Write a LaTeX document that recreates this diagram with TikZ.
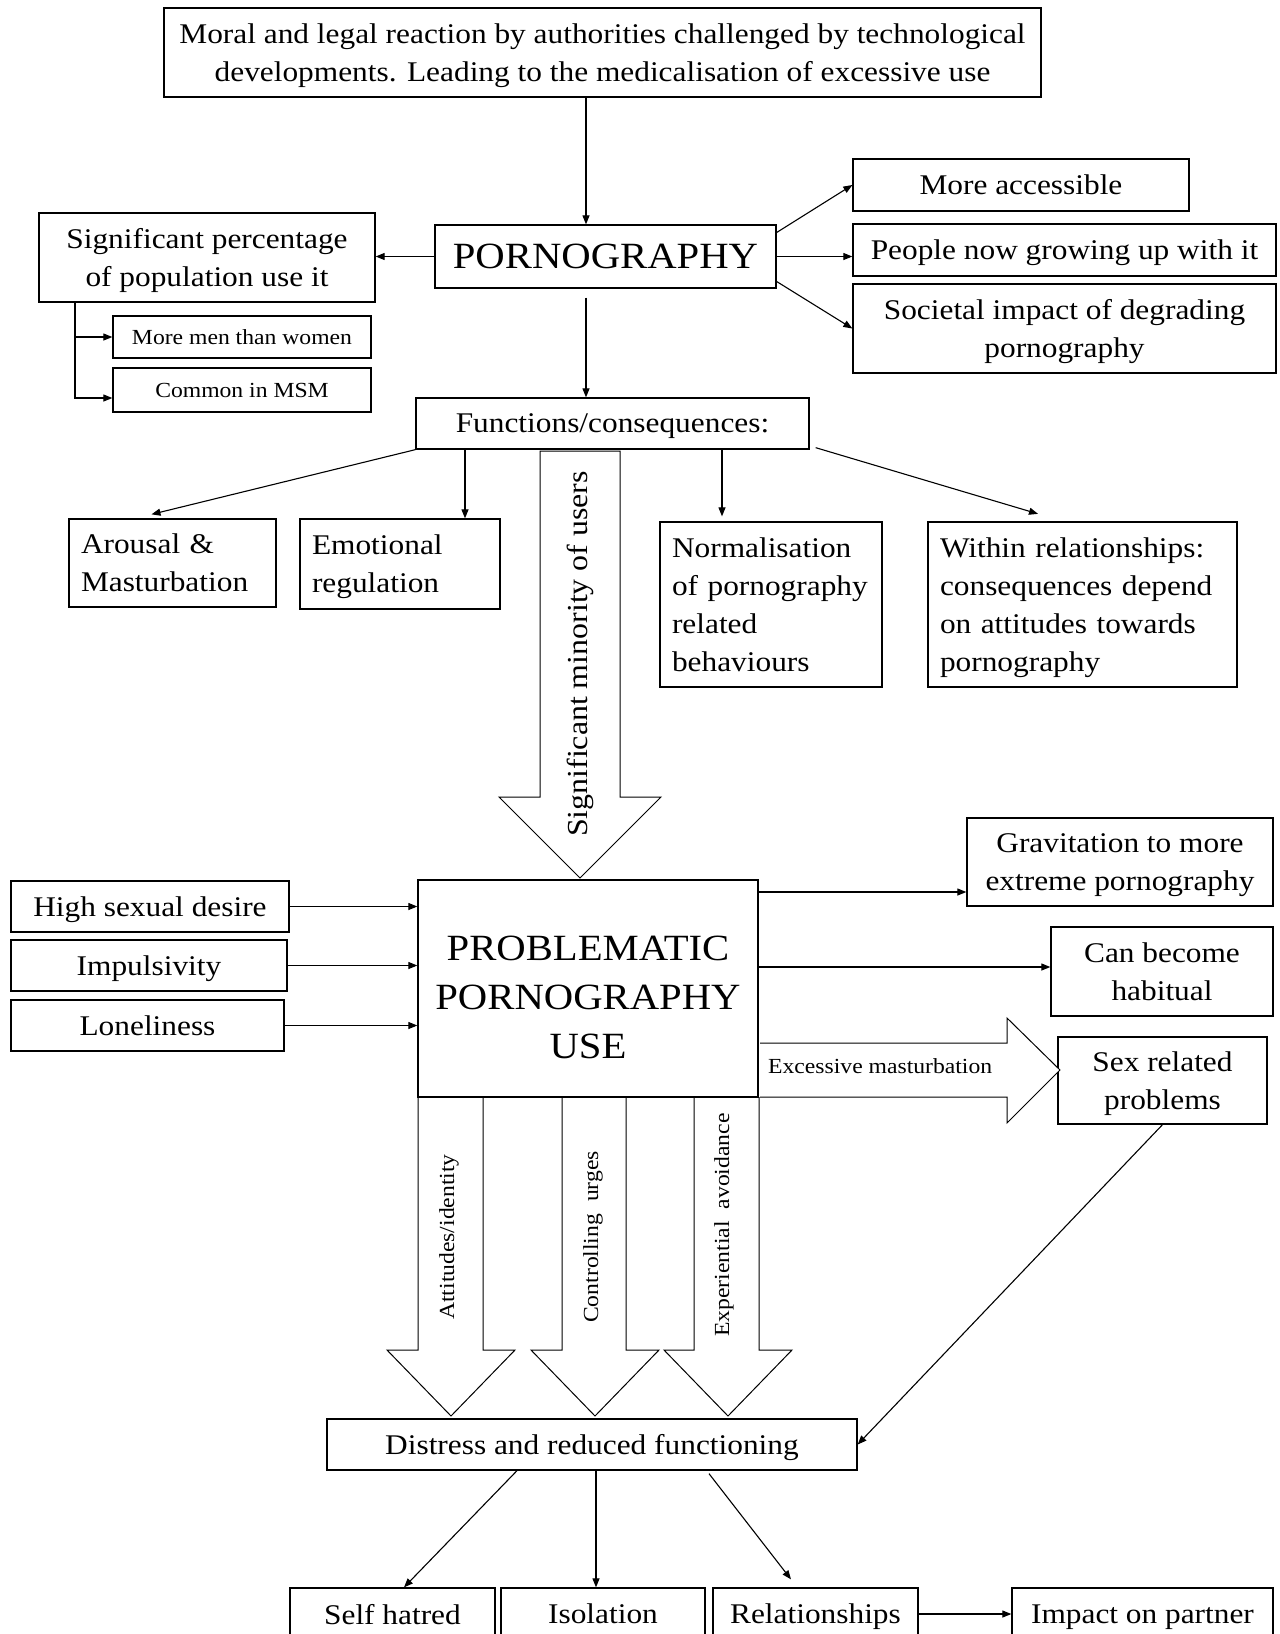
\documentclass[tikz,border=0pt]{standalone}
\usepackage{fontspec}
\setmainfont{Liberation Serif}[FakeStretch=1.1]
\usetikzlibrary{arrows.meta,calc}
\newcommand\fsN{\fontsize{28.5}{38}\selectfont}
\newcommand\fsS{\fontsize{21.5}{26}\selectfont}
\newcommand\fsB{\fontsize{37}{44}\selectfont}
\newcommand\fsP{\fontsize{37}{49}\selectfont}
\newcommand\fsR{\fontsize{29}{34}\selectfont}
\tikzset{
  box/.style={draw, line width=1.3pt, fill=white, inner sep=0pt, align=center, font=\fsN, text depth=0pt},
  lbox/.style={draw, line width=1.3pt, fill=white, inner sep=0pt, inner xsep=12pt, align=left, font=\fsN},
  arr/.style={-{Triangle[length=9pt,width=7pt]}, line width=1.1pt},
  hollow/.style={draw, line width=1pt, fill=white, line join=miter},
  lab/.style={inner sep=0pt, font=\fsS},
}
\begin{document}
\begin{tikzpicture}[x=1pt,y=-1pt]
\fill[white] (0,0) rectangle (1280,1634);
\useasboundingbox (0,0) rectangle (1280,1634);

% helper coordinates
\coordinate (c586) at (586,0);
\coordinate (c75) at (75,0);
\coordinate (c465) at (465,0);
\coordinate (c722) at (722,0);
\coordinate (c596) at (596,0);
\coordinate (y892) at (0,892);
\coordinate (y967) at (0,967);

% top part
\node[box, minimum width=877, minimum height=89] (top) at (602.5,52.5)
  {Moral and legal reaction by authorities challenged by technological\\developments. Leading to the medicalisation of excessive use};
\node[box, font=\fsB, minimum width=341, minimum height=63] (porn) at (605.5,256.5) {PORNOGRAPHY};
\node[box, minimum width=336, minimum height=89] (sig) at (207,257.5) {Significant percentage\\of population use it};
\node[box, minimum width=336, minimum height=52] (acc) at (1021,185) {More accessible};
\node[box, minimum width=423, minimum height=52] (grow) at (1064.5,250) {People now growing up with it};
\node[box, minimum width=423, minimum height=89] (soc) at (1064.5,328.5) {Societal impact of degrading\\pornography};
\node[box, font=\fsS, minimum width=258, minimum height=42] (men) at (242,337) {More men than women};
\node[box, font=\fsS, minimum width=258, minimum height=44] (msm) at (242,390) {Common in MSM};
\node[box, minimum width=393, minimum height=51] (func) at (612.5,423.5) {Functions/consequences:};

\node[lbox, text width=183, minimum height=88] (arousal) at (172.5,563) {Arousal \&\\Masturbation};
\node[lbox, text width=176, minimum height=90] (emo) at (400,564) {Emotional\\\smash{regulation}};
\node[lbox, text width=198, minimum height=165] (norm) at (771,604.5) {Normalisation\\of pornography\\related\\behaviours};
\node[lbox, text width=285, minimum height=165] (within) at (1082.5,604.5) {Within relationships:\\consequences depend\\on attitudes towards\\\smash{pornography}};

% middle
\node[box, font=\fsP, minimum width=340, minimum height=217] (ppu) at (588,988.5) {\rule{0pt}{41pt}PROBLEMATIC\\PORNOGRAPHY\\USE};
\node[box, minimum width=278, minimum height=51] (high) at (150,906.5) {High sexual desire};
\node[box, minimum width=276, minimum height=51] (imp) at (149,965.5) {Impulsivity};
\node[box, minimum width=273, minimum height=51] (lone) at (147.5,1025.5) {Loneliness};
\node[box, minimum width=306, minimum height=88] (grav) at (1120,862) {Gravitation to more\\extreme pornography};
\node[box, minimum width=222, minimum height=89] (habit) at (1162,971.5) {Can become\\habitual};
\node[box, minimum width=209, minimum height=87] (sexp) at (1162.5,1080.5) {Sex related\\problems};

% bottom
\node[box, minimum width=530, minimum height=51] (dist) at (592,1444.5) {Distress and reduced functioning};
\node[box, minimum width=205, minimum height=52] (selfh) at (392.5,1614) {Self hatred};
\node[box, minimum width=204, minimum height=52] (iso) at (603,1614) {Isolation};
\node[box, minimum width=205, minimum height=52] (rel) at (815.5,1614) {Relationships};
\node[box, minimum width=261, minimum height=52] (partner) at (1142.5,1614) {Impact on partner};

% hollow arrows
\draw[hollow] (540,451) -- (540,797) -- (499,797) -- (580,878) -- (661,797) -- (620,797) -- (620,451) -- cycle;
\node[rotate=90, inner sep=0pt, font=\fsR] (minority) at (580,654) {Significant minority of users};

\draw[hollow] (418,1097) -- (418,1350) -- (387,1350) -- (451,1416) -- (515,1350) -- (483,1350) -- (483,1097);
\draw[hollow] (562,1097) -- (562,1350) -- (531,1350) -- (595,1416) -- (659,1350) -- (626,1350) -- (626,1097);
\draw[hollow] (694,1097) -- (694,1350) -- (664,1350) -- (728,1416) -- (792,1350) -- (759,1350) -- (759,1097);
\node[rotate=90, lab] (att) at (449,1237) {Attitudes/identity};
\node[rotate=90, lab] (ctl) at (593,1237) {Controlling\ \ urges};
\node[rotate=90, lab] (exp) at (724,1225) {Experiential\ \ avoidance};

\draw[hollow] (760,1097) -- (1007,1097) -- (1007,1123) -- (1060,1070) -- (1007,1018) -- (1007,1043) -- (760,1043);
\node[lab, anchor=west] (excess) at (768,1066) {Excessive masturbation};

% redraw ppu bottom/right edges on top
\draw[line width=1.3pt] (ppu.south west) -- (ppu.south east) -- (ppu.north east);

% connectors
\draw[arr] (top.south -| c586) -- (porn.north -| c586);
\draw[arr] (porn.west) -- (sig.east |- porn.west);
\draw[arr] ([yshift=24]porn.east) -- (acc.west);
\draw[arr] (porn.east) -- (porn.east -| grow.west);
\draw[arr] ([yshift=-25]porn.east) -- (soc.west);
\draw[arr] (c586 |- porn.south) ++(0,9) -- (c586 |- func.north);
\draw[arr] (c75 |- sig.south) |- (men.west);
\draw[arr] (c75 |- sig.south) |- ([yshift=-8]msm.west);

\draw[arr] (func.south west) -- ([xshift=-21,yshift=4]arousal.north);
\draw[arr] (c465 |- func.south) -- (c465 |- emo.north);
\draw[arr] (c722 |- func.south) -- ([yshift=5]c722 |- norm.north);
\draw[arr] ([xshift=6,yshift=2]func.south east) -- ([xshift=-44.5,yshift=7.5]within.north);

\draw[arr] (high.east) -- (ppu.west |- high.east);
\draw[arr] (imp.east) -- (ppu.west |- imp.east);
\draw[arr] (lone.east) -- (ppu.west |- lone.east);
\draw[arr] (ppu.east |- y892) -- (grav.west |- y892);
\draw[arr] (ppu.east |- y967) -- (habit.west |- y967);
\draw[arr] (sexp.south) -- (dist.east);

\draw[arr] ([xshift=-75]dist.south) -- ([xshift=11.5]selfh.north);
\draw[arr] (c596 |- dist.south) -- (c596 |- iso.north);
\draw[arr] ([xshift=117,yshift=-3]dist.south) -- ([xshift=-24.5,yshift=8]rel.north);
\draw[arr] (rel.east) -- (partner.west);
\end{tikzpicture}
\end{document}
